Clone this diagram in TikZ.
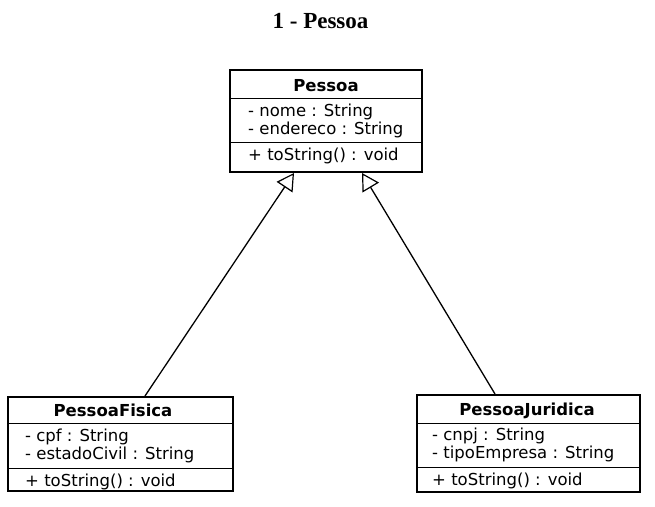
\documentclass[tikz,border=0pt]{standalone}
\usepackage{fontspec}
\setmainfont{Liberation Serif}
\newfontfamily\umlfont{DejaVu Sans}
\usetikzlibrary{arrows.meta}
\begin{document}
\begin{tikzpicture}[x=1pt,y=-1pt,
  classbox/.style={draw=black, line width=2pt, rectangle, inner sep=0pt, fill=white},
  divider/.style={line width=1pt},
  member/.style={anchor=base west, inner sep=0pt, font=\umlfont\fontsize{16.5}{18}\selectfont},
  header/.style={anchor=base, inner sep=0pt, font=\umlfont\bfseries\fontsize{16.5}{18}\selectfont},
  inherit/.style={line width=1.3pt, -{Triangle[open,length=17pt,width=19pt,line width=1.2pt]}}]
\useasboundingbox (0,0) rectangle (655,506);
% title
\node[anchor=base, inner sep=0pt, font=\bfseries\fontsize{23}{27}\selectfont] (title) at (320.5,28) {1 - Pessoa};
% class boxes
\node[classbox, minimum width=192pt, minimum height=102pt] (pessoa) at (326,121) {};
\node[classbox, minimum width=225pt, minimum height=94pt] (pf) at (120.5,444) {};
\node[classbox, minimum width=223pt, minimum height=97pt] (pj) at (528.5,443.5) {};
% dividers
\draw[divider] (230,98) -- (422,98);
\draw[divider] (230,142) -- (422,142);
\draw[divider] (8,423) -- (233,423);
\draw[divider] (8,468) -- (233,468);
\draw[divider] (417,423) -- (640,423);
\draw[divider] (417,467) -- (640,467);
% Pessoa text
\node[header] (pessoaH) at (326,91) {Pessoa};
\node[member] (pessoaA1) at (248,116) {- nome : String};
\node[member] (pessoaA2) at (248,134) {- endereco : String};
\node[member] (pessoaM1) at (248,160) {+ toString() : void};
% PessoaFisica text
\node[header] (pfH) at (113,416) {PessoaFisica};
\node[member] (pfA1) at (25,441) {- cpf : String};
\node[member] (pfA2) at (25,459) {- estadoCivil : String};
\node[member] (pfM1) at (25,486) {+ toString() : void};
% PessoaJuridica text
\node[header] (pjH) at (527,415) {PessoaJuridica};
\node[member] (pjA1) at (432,440) {- cnpj : String};
\node[member] (pjA2) at (432,458) {- tipoEmpresa : String};
\node[member] (pjM1) at (432,485) {+ toString() : void};
% inheritance
\draw[inherit] ([xshift=24.5pt]pf.north) -- ([xshift=-32pt]pessoa.south);
\draw[inherit] ([xshift=-33.5pt]pj.north) -- ([xshift=36pt]pessoa.south);
\end{tikzpicture}
\end{document}
